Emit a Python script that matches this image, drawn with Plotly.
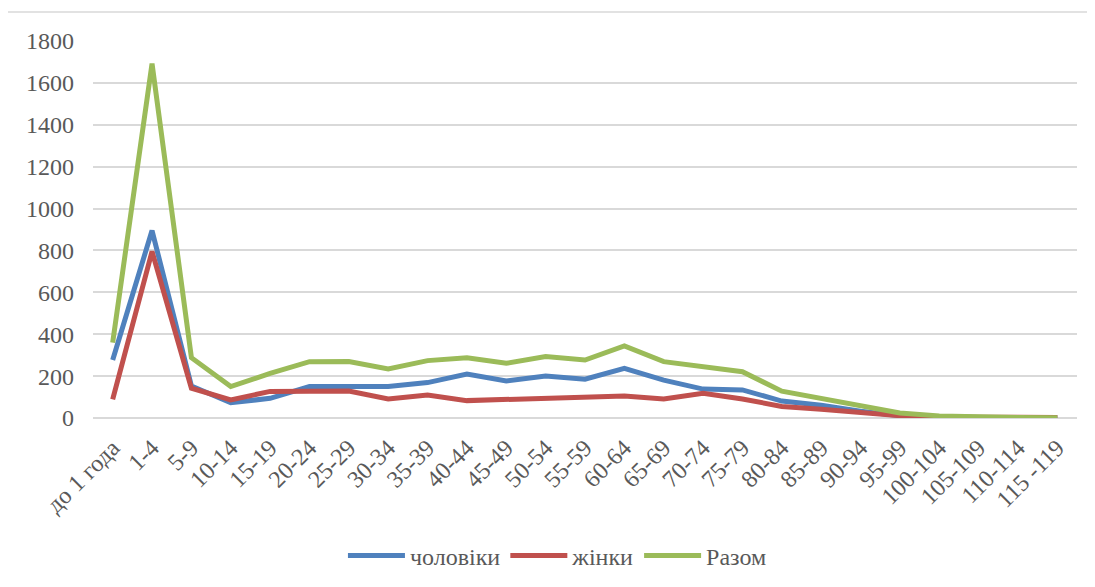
import plotly.graph_objects as go

categories = ["до 1 года", "1-4", "5-9", "10-14", "15-19", "20-24", "25-29", "30-34",
              "35-39", "40-44", "45-49", "50-54", "55-59", "60-64", "65-69", "70-74",
              "75-79", "80-84", "85-89", "90-94", "95-99", "100-104", "105-109",
              "110-114", "115 -119"]

men = [277, 895, 153, 73, 94, 150, 150, 150, 169, 210, 177, 201, 185, 237, 181, 138,
       134, 81, 61, 32, 11, 4, 2, 1, 1]
women = [89, 795, 142, 86, 127, 129, 129, 91, 110, 83, 88, 92, 94, 105, 91, 118,
         91, 55, 42, 29, 11, 5, 2, 3, 2]
total = [360, 1692, 288, 150, 213, 269, 270, 234, 274, 288, 261, 293, 277, 344, 269, 248,
         221, 128, 93, 56, 24, 10, 4, 2, 1]

series_names = ["чоловіки", "жінки", "Разом"]
colors = ["#4F81BD", "#C0504D", "#9BBB59"]

fig = go.Figure()
for name, vals, col in zip(series_names, [men, women, total], colors):
    fig.add_trace(go.Scatter(x=categories, y=vals, mode="lines", name=name,
                             line=dict(color=col, width=5)))

font_family = "Liberation Serif, Times New Roman, serif"
fig.update_layout(
    width=1087, height=579,
    margin=dict(l=85, r=18, t=33, b=169),
    paper_bgcolor="white", plot_bgcolor="white",
    font=dict(family=font_family, size=24, color="#595959"),
    showlegend=True,
    legend=dict(orientation="h", x=0.472, xanchor="center",
                yref="container", y=1 - 548 / 579, yanchor="middle",
                font=dict(size=24, color="#595959"), itemwidth=57),
    xaxis=dict(type="category", range=[-0.5, 24.5], showgrid=False, showline=False,
               zeroline=False, tickangle=-45, ticks="", ticklabelstandoff=10,
               tickfont=dict(size=24), automargin=False),
    yaxis=dict(range=[0, 1800], dtick=200, showgrid=True, gridcolor="#D9D9D9", gridwidth=1.5,
               zeroline=True, zerolinecolor="#D9D9D9", zerolinewidth=1.5,
               showline=False, ticks="", ticklabelstandoff=18, tickfont=dict(size=24),
               automargin=False),
    shapes=[dict(type="rect", xref="paper", yref="paper",
                 x0=(7 - 93) / 984, x1=1.2, y0=-0.6, y1=(418 - 12) / 377,
                 line=dict(color="#D9D9D9", width=1.5), layer="below")],
)

fig.write_html("out.html")
